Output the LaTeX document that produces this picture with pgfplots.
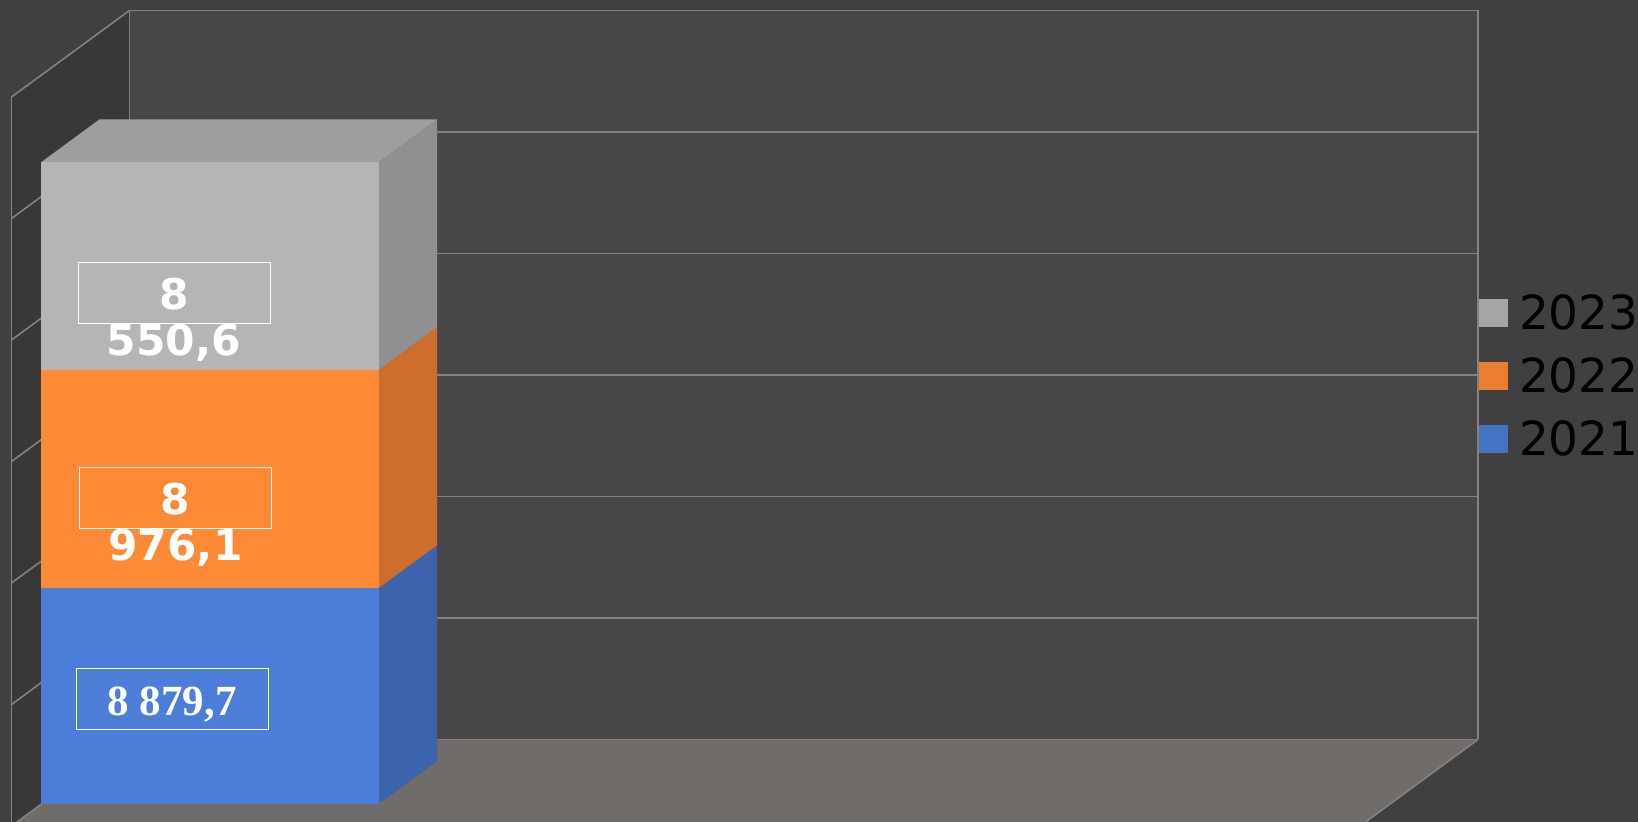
\documentclass[border=0pt]{standalone}
\usepackage{fontspec}
\setmainfont{DejaVu Sans}
\newfontfamily\serifb{Liberation Serif}
\usepackage{pgfplots}
\pgfplotsset{compat=1.18}
\definecolor{bgc}{HTML}{404040}
\definecolor{wallback}{HTML}{474747}
\definecolor{wallleft}{HTML}{383838}
\definecolor{floorc}{HTML}{6F6C6A}
\definecolor{gridc}{HTML}{828282}
\definecolor{bfront}{HTML}{4C7ED9}
\definecolor{bside}{HTML}{3C64AC}
\definecolor{ofront}{HTML}{FF8A36}
\definecolor{oside}{HTML}{CF6D2C}
\definecolor{gfront}{HTML}{B5B5B5}
\definecolor{gside}{HTML}{909090}
\definecolor{gtop}{HTML}{9E9E9E}
\definecolor{swb}{HTML}{4472C4}
\definecolor{swo}{HTML}{ED7D31}
\definecolor{swg}{HTML}{A5A5A5}
\tikzset{
  gl/.style={gridc, line width=0.8pt},
  lab/.style={text=white, inner sep=0pt, anchor=base, font=\fontsize{21.2pt}{21.2pt}\selectfont\bfseries},
}
\pgfplotsset{
  canvas/.style={scale only axis, width=819pt, height=411pt, hide axis,
    xmin=0, xmax=1638, anchor=south west, at={(0pt,0pt)}},
  valaxis/.style={canvas, ymin=-740.74, ymax=33086.42},
  sw/.style={legend image code/.code={\fill[#1] (0pt,-7pt) rectangle (14.5pt,7pt);}},
}
\begin{document}
\begin{tikzpicture}
% walls, floor and grid, in picture pixels
\begin{axis}[canvas, y dir=reverse, ymin=0, ymax=822]
\fill[bgc] (axis cs:0,0) rectangle (axis cs:1638,822);
\fill[wallback] (axis cs:129.5,10.5) rectangle (axis cs:1478,739.5);
\fill[wallleft] (axis cs:11.5,97) -- (axis cs:129.5,10.5) -- (axis cs:129.5,739.5) -- (axis cs:11.5,826) -- cycle;
\fill[floorc] (axis cs:129.5,739.5) -- (axis cs:1478,739.5) -- (axis cs:1360,826) -- (axis cs:11.5,826) -- cycle;
\draw[gl] (axis cs:129.5,10.5) -- (axis cs:1478,10.5);
\draw[gl] (axis cs:129.5,132) -- (axis cs:1478,132);
\draw[gl] (axis cs:129.5,253.5) -- (axis cs:1478,253.5);
\draw[gl] (axis cs:129.5,375) -- (axis cs:1478,375);
\draw[gl] (axis cs:129.5,496.5) -- (axis cs:1478,496.5);
\draw[gl] (axis cs:129.5,618) -- (axis cs:1478,618);
\draw[gl] (axis cs:129.5,739.5) -- (axis cs:1478,739.5);
\draw[gl] (axis cs:11.5,97) -- (axis cs:129.5,10.5);
\draw[gl] (axis cs:11.5,218.5) -- (axis cs:129.5,132);
\draw[gl] (axis cs:11.5,340) -- (axis cs:129.5,253.5);
\draw[gl] (axis cs:11.5,461.5) -- (axis cs:129.5,375);
\draw[gl] (axis cs:11.5,583) -- (axis cs:129.5,496.5);
\draw[gl] (axis cs:11.5,704.5) -- (axis cs:129.5,618);
\draw[gl] (axis cs:11.5,826) -- (axis cs:129.5,739.5);
\draw[gl] (axis cs:129.5,10.5) -- (axis cs:129.5,739.5);
\draw[gl] (axis cs:1478,10.5) -- (axis cs:1478,739.5);
\draw[gl] (axis cs:11.5,97) -- (axis cs:11.5,822);
\draw[gl] (axis cs:1478,739.5) -- (axis cs:1360,826);
\end{axis}
% depth faces of the stacked column, in chart values
\begin{axis}[valaxis]
\addplot[fill=bside, draw=none, forget plot] coordinates {(378.5,0) (378.5,8879.7) (437.1,10649.2) (437.1,1769.5)} -- cycle;
\addplot[fill=oside, draw=none, forget plot] coordinates {(378.5,8879.7) (378.5,17855.8) (437.1,19625.3) (437.1,10649.2)} -- cycle;
\addplot[fill=gside, draw=none, forget plot] coordinates {(378.5,17855.8) (378.5,26406.4) (437.1,28175.9) (437.1,19625.3)} -- cycle;
\addplot[fill=gtop, draw=none, forget plot] coordinates {(41,26406.4) (378.5,26406.4) (437.1,28175.9) (99.6,28175.9)} -- cycle;
\end{axis}
% front faces, legend
\begin{axis}[valaxis, ybar stacked, bar width=337.5,
  reverse legend,
  legend cell align=left,
  legend style={at={(axis cs:1479,20981)}, anchor=north west, draw=none, fill=none,
    inner sep=0pt, outer sep=0pt, row sep=12.6pt,
    font=\fontsize{23.5pt}{24pt}\selectfont, text=black,
    nodes={inner sep=0pt, outer sep=0pt},
    /tikz/every odd column/.append style={column sep=5.5pt}},
]
\addplot[fill=bfront, draw=none, sw=swb] coordinates {(209.75,8879.7)};
\addlegendentry{2021}
\addplot[fill=ofront, draw=none, sw=swo] coordinates {(209.75,8976.1)};
\addlegendentry{2022}
\addplot[fill=gfront, draw=none, sw=swg] coordinates {(209.75,8550.6)};
\addlegendentry{2023}
\end{axis}
% data labels
\begin{axis}[valaxis]
\draw[white, line width=0.5pt] (axis cs:78,22263.4) rectangle (axis cs:270,19765.4);
\draw[white, line width=0.5pt] (axis cs:79.7,13839.5) rectangle (axis cs:271.7,11345.7);
\draw[white, line width=0.5pt] (axis cs:76.7,5584.4) rectangle (axis cs:268.7,3074.1);
\node[lab] at (axis cs:173.8,20350) {8};
\node[lab] at (axis cs:173.8,18456.8) {550,6};
\node[lab] at (axis cs:175.5,11913.6) {8};
\node[lab] at (axis cs:175.5,10020.6) {976,1};
\node[lab, font=\fontsize{21.5pt}{21.5pt}\selectfont\serifb\bfseries] at (axis cs:172.2,3640) {8 879,7};
\end{axis}
\pgfresetboundingbox
\path[use as bounding box] (0pt,0pt) rectangle (819pt,411pt);
\end{tikzpicture}
\end{document}
